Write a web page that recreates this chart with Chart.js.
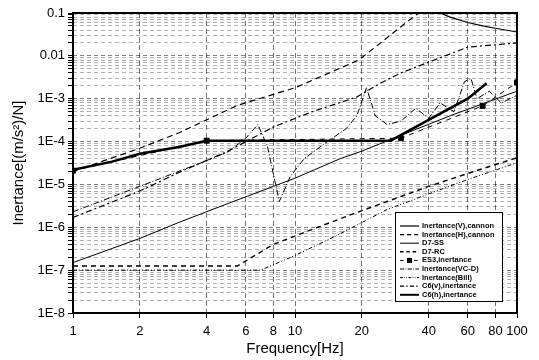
<!DOCTYPE html>
<html>
<head>
<meta charset="utf-8">
<script src="https://cdn.jsdelivr.net/npm/chart.js@4.4.1/dist/chart.umd.min.js"></script>
<style>
  html, body { margin: 0; padding: 0; background: #fff; }
</style>
</head>
<body>
<canvas id="chart" width="539" height="360"></canvas>
<script>
// --- DATA ---
const xTickValues = [1, 2, 4, 6, 8, 10, 20, 40, 60, 80, 100];
const yDecades = [1e-8, 1e-7, 1e-6, 1e-5, 1e-4, 1e-3, 0.01, 0.1];
const yTickLabels = ["1E-8", "1E-7", "1E-6", "1E-5", "1E-4", "1E-3", "0.01", "0.1"];

const cannonVFreq = [30, 40, 45, 50, 60, 70, 80, 100];
const cannonVVal = [0.3, 0.13, 0.1, 0.08, 0.06, 0.05, 0.044, 0.036];

const cannonHFreq = [1, 2, 3, 5.5, 10, 19.4, 30, 36, 50];
const cannonHVal = [2e-5, 7e-5, 1.6e-4, 7e-4, 1.8e-3, 8e-3, 4.8e-2, 0.1, 0.3];

const d7ssFreq = [1, 2, 3, 5, 8, 10, 16, 20, 30, 50, 100];
const d7ssVal = [1.5e-7, 5.5e-7, 1.3e-6, 3.6e-6, 9e-6, 1.4e-5, 4e-5, 6e-5, 1.4e-4, 4e-4, 1.5e-3];

const d7rcFreq = [1, 5.5, 8, 12, 18, 26, 40, 60, 100];
const d7rcVal = [1.25e-7, 1.25e-7, 4e-7, 9e-7, 2e-6, 4e-6, 9e-6, 1.8e-5, 4.2e-5];

const es3Freq = [1, 4, 30, 70, 100];
const es3Val = [2.1e-5, 1.05e-4, 1.2e-4, 6.8e-4, 2.4e-3];

const vcdFreq = [1, 2, 4, 5, 6, 6.8, 7.5, 8.5, 9.5, 11, 14, 17, 19, 21, 23, 26, 30, 35, 40, 45, 52, 58, 62, 66, 75, 85, 100];
const vcdVal = [2.3e-6, 9e-6, 3.6e-5, 5.8e-5, 1.2e-4, 2.5e-4, 8e-5, 4e-6, 1.5e-5, 4e-5, 1e-4, 2e-4, 4e-4, 1.8e-3, 4e-4, 2.5e-4, 3e-4, 6e-4, 3.5e-4, 8e-4, 5e-4, 2.5e-3, 3e-3, 1e-3, 1.5e-3, 8e-4, 1.2e-3];

const billFreq = [1, 7, 10, 15, 26, 40, 60, 100];
const billVal = [1e-7, 1e-7, 2.2e-7, 6e-7, 2.6e-6, 6e-6, 1.3e-5, 3.2e-5];

const c6vFreq = [1, 2, 3, 5, 8, 12, 19, 25, 30, 45, 60, 100];
const c6vVal = [1.7e-6, 7e-6, 1.9e-5, 6e-5, 2.2e-4, 5e-4, 1.1e-3, 2.5e-3, 4e-3, 9e-3, 1.6e-2, 2e-2];

const c6hFreq = [1, 1.5, 2, 3, 4, 10, 20, 27, 40, 60, 73];
const c6hVal = [2.2e-5, 3.4e-5, 5.2e-5, 7.5e-5, 1.05e-4, 1.05e-4, 1.05e-4, 1.05e-4, 3.2e-4, 1e-3, 2.3e-3];

// y minor ticks: 1..9 x each decade
const yTicks = [];
yDecades.forEach((d, i) => {
  if (i === yDecades.length - 1) { yTicks.push(d); return; }
  for (let m = 1; m <= 9; m++) yTicks.push(d * m);
});

const pts = (f, v) => f.map((x, i) => ({ x, y: v[i] }));

function serie(label, f, v, dash, width, extra = {}) {
  return Object.assign({
    label,
    data: pts(f, v),
    borderColor: "#000",
    backgroundColor: "#000",
    borderWidth: width,
    borderDash: dash,
    pointRadius: 0,
    tension: 0,
    fill: false
  }, extra);
}

const datasets = [
  serie("Inertance(V),cannon", cannonVFreq, cannonVVal, [], 1.2),
  serie("Inertance(H),cannon", cannonHFreq, cannonHVal, [6, 4], 1.2),
  serie("D7-SS", d7ssFreq, d7ssVal, [], 1),
  serie("D7-RC", d7rcFreq, d7rcVal, [5, 4], 1.4),
  serie("ES3,inertance", es3Freq, es3Val, [5, 5], 1, { pointRadius: 3.5, pointStyle: "rect" }),
  serie("Inertance(VC-D)", vcdFreq, vcdVal, [6, 2, 1, 2], 1),
  serie("Inertance(Bill)", billFreq, billVal, [4, 2, 1, 2, 1, 2], 1),
  serie("C6(v),inertance", c6vFreq, c6vVal, [6, 3, 2, 3], 1.2),
  serie("C6(h),inertance", c6hFreq, c6hVal, [], 2.5)
];

const isDecade = (v) => Math.abs(Math.log10(v) - Math.round(Math.log10(v))) < 1e-6;

// legend drawn inside the plot, like the original
const boxLegend = {
  id: "boxLegend",
  afterDraw(chart) {
    const ctx = chart.ctx;
    const x0 = 395, y0 = 212, w = 107, h = 89;
    ctx.save();
    ctx.fillStyle = "#fff";
    ctx.fillRect(x0, y0, w, h);
    ctx.strokeStyle = "#000";
    ctx.lineWidth = 1;
    ctx.setLineDash([]);
    ctx.strokeRect(x0 + 0.5, y0 + 0.5, w, h);
    ctx.font = "bold 7.5px 'Liberation Sans', Arial, sans-serif";
    ctx.textBaseline = "middle";
    chart.data.datasets.forEach((ds, i) => {
      const y = y0 + 14 + i * 8.6;
      ctx.strokeStyle = "#000";
      ctx.lineWidth = Math.min(ds.borderWidth, 2);
      ctx.setLineDash(ds.borderDash.map((d) => d * 0.7));
      ctx.beginPath();
      ctx.moveTo(x0 + 5, y);
      ctx.lineTo(x0 + 24, y);
      ctx.stroke();
      if (ds.pointRadius > 0) {
        ctx.fillStyle = "#000";
        ctx.fillRect(x0 + 12, y - 2.5, 5, 5);
      }
      ctx.fillStyle = "#000";
      ctx.fillText(ds.label, x0 + 27, y);
    });
    ctx.restore();
  }
};

// thick frame round the plot area
const frame = {
  id: "frame",
  afterDatasetsDraw(chart) {
    const a = chart.chartArea, ctx = chart.ctx;
    ctx.save();
    ctx.strokeStyle = "#000";
    ctx.lineWidth = 2;
    ctx.setLineDash([]);
    ctx.strokeRect(a.left, a.top, a.right - a.left, a.bottom - a.top);
    ctx.restore();
  }
};

new Chart(document.getElementById("chart"), {
  type: "line",
  data: { datasets },
  plugins: [boxLegend, frame],
  options: {
    responsive: false,
    devicePixelRatio: 1,
    animation: false,
    layout: { padding: { top: 13, right: 22, left: 0, bottom: 0 } },
    plugins: { legend: { display: false }, tooltip: { enabled: false } },
    scales: {
      x: {
        type: "logarithmic",
        min: 1,
        max: 100,
        afterFit: (s) => { s.height = 47; },
        afterBuildTicks: (s) => { s.ticks = xTickValues.map((v) => ({ value: v })); },
        ticks: {
          autoSkip: false,
          maxRotation: 0,
          padding: 6,
          color: "#000",
          font: { family: "'Liberation Sans', Arial, sans-serif", size: 13 },
          callback: (v) => String(v)
        },
        grid: {
          color: "rgba(0,0,0,0.55)",
          lineWidth: 1,
          tickColor: "#000",
          tickLength: 5,
          tickBorderDash: []
        },
        border: { display: false, dash: [5, 3] },
        title: {
          display: true,
          text: "Frequency[Hz]",
          color: "#000",
          padding: { top: 4, bottom: 2 },
          font: { family: "'Liberation Sans', Arial, sans-serif", size: 15 }
        }
      },
      y: {
        type: "logarithmic",
        min: 1e-8,
        max: 0.1,
        afterFit: (s) => { s.width = 73; },
        afterBuildTicks: (s) => { s.ticks = yTicks.map((v) => ({ value: v })); },
        ticks: {
          autoSkip: false,
          color: "#000",
          font: { family: "'Liberation Sans', Arial, sans-serif", size: 13 },
          callback: (v) => {
            if (!isDecade(v)) return "";
            return yTickLabels[Math.round(Math.log10(v)) + 8];
          }
        },
        grid: {
          color: (c) => (c.tick && isDecade(c.tick.value) ? "rgba(0,0,0,0.5)" : "rgba(0,0,0,0.3)"),
          lineWidth: 1,
          tickColor: "#000",
          tickLength: 5,
          tickBorderDash: []
        },
        border: { display: false, dash: [4, 3] },
        title: {
          display: true,
          text: "Inertance[(m/s²)/N]",
          color: "#000",
          padding: { top: 10, bottom: 4 },
          font: { family: "'Liberation Sans', Arial, sans-serif", size: 15 }
        }
      }
    }
  }
});
</script>
</body>
</html>
